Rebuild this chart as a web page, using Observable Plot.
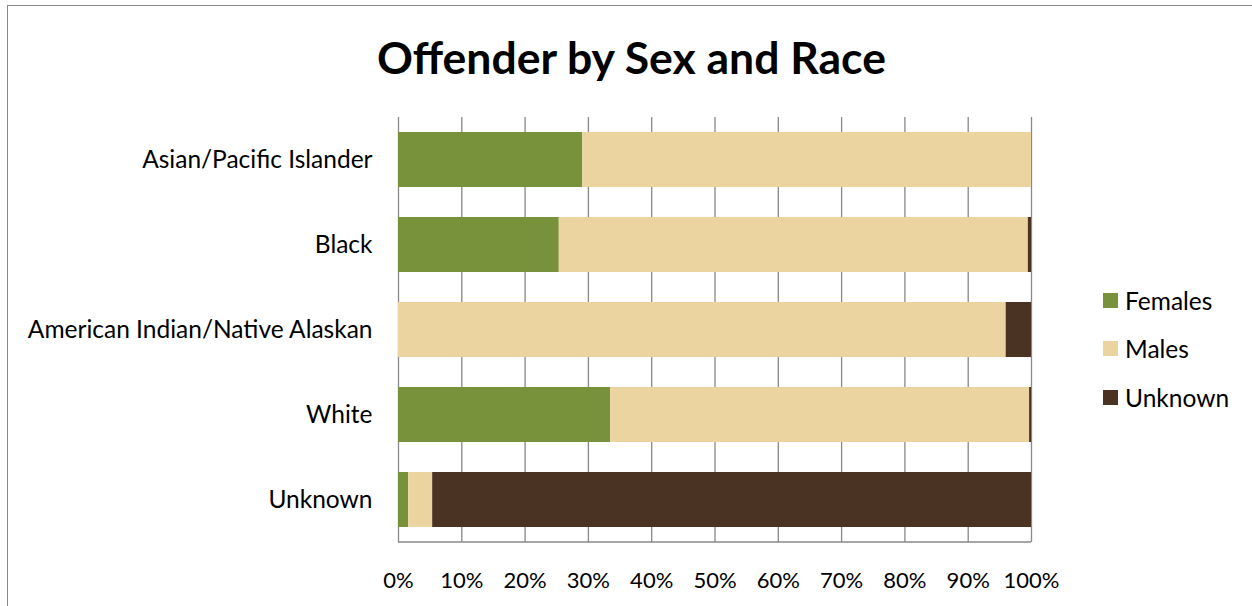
<!DOCTYPE html>
<html>
<head>
<meta charset="utf-8">
<script src="https://cdn.jsdelivr.net/npm/d3@7"></script>
<script src="https://cdn.jsdelivr.net/npm/@observablehq/plot@0.6"></script>
<style>
  html, body { margin: 0; padding: 0; background: #fff; overflow: hidden; }
  #page { position: relative; width: 1252px; height: 606px; font-family: Lato, "Open Sans", sans-serif; color: #000; }
  #frame { position: absolute; left: 7px; top: 5px; width: 1260px; height: 620px; border: 1.5px solid #878787; box-sizing: border-box; }
  #title { position: absolute; left: 0; width: 1263px; top: 30px; text-align: center; font-size: 44.5px; font-weight: 700; line-height: 54px; }
  #chart { position: absolute; left: 0; top: 0; }
  .item { position: absolute; left: 1103px; display: flex; align-items: center; height: 30px; font-size: 24.5px; }
  .sw { width: 15px; height: 15px; margin-right: 7px; }
</style>
</head>
<body>
<div id="page">
  <div id="frame"></div>
  <div id="chart"></div>
  <div id="title">Offender by Sex and Race</div>
  <div id="legend"></div>
</div>
<script>
const races = ["Asian/Pacific Islander", "Black", "American Indian/Native Alaskan", "White", "Unknown"];
const series = ["Females", "Males", "Unknown"];
const females = [29.1, 25.4, 0.0, 33.5, 1.6];
const males = [70.9, 74.1, 96.0, 66.2, 3.8];
const unknown = [0.0, 0.5, 4.0, 0.3, 94.6];
const xTicks = [0, 0.1, 0.2, 0.3, 0.4, 0.5, 0.6, 0.7, 0.8, 0.9, 1.0];
const colors = ["#77923a", "#ebd49f", "#4a3323"];

const rows = [];
races.forEach((r, i) => {
  [females[i], males[i], unknown[i]].forEach((v, j) => {
    rows.push({race: r, sex: series[j], value: v / 100});
  });
});

const chart = Plot.plot({
  width: 1252,
  height: 606,
  marginLeft: 398,
  marginRight: 221,
  marginTop: 117,
  marginBottom: 64,
  style: {fontFamily: "Lato, 'Open Sans', sans-serif", fontSize: "22px", color: "#000", background: "transparent", overflow: "visible"},
  x: {domain: [0, 1], ticks: xTicks, tickFormat: d3.format(".0%"), label: null},
  y: {domain: races, paddingInner: 0.353, paddingOuter: 0.176, label: null},
  color: {domain: series, range: colors},
  marks: [
    Plot.ruleX(xTicks, {stroke: "#888", strokeWidth: 1.3}),
    Plot.barX(rows, Plot.stackX({x: "value", y: "race", fill: "sex", order: series})),
    Plot.axisX({ticks: xTicks, tickFormat: d3.format(".0%"), tickSize: 0, tickPadding: 30, fontSize: 22, label: null}),
    Plot.axisY({tickSize: 0, tickPadding: 26, fontSize: 24.5, label: null})
  ]
});
document.getElementById("chart").appendChild(chart);

// bottom axis line drawn from the plot's own scales
const xs = chart.scale("x"), ys = chart.scale("y");
const yBottom = Math.max(...ys.range);
d3.select(chart).append("line")
  .attr("x1", xs.apply(0)).attr("x2", xs.apply(1))
  .attr("y1", yBottom).attr("y2", yBottom)
  .attr("stroke", "#888").attr("stroke-width", 1.3);

const legend = document.getElementById("legend");
const legendY = [285, 333, 382];
series.forEach((s, j) => {
  const it = document.createElement("div");
  it.className = "item";
  it.style.top = legendY[j] + "px";
  it.innerHTML = `<div class="sw" style="background:${colors[j]}"></div><span>${s}</span>`;
  legend.appendChild(it);
});
</script>
</body>
</html>
